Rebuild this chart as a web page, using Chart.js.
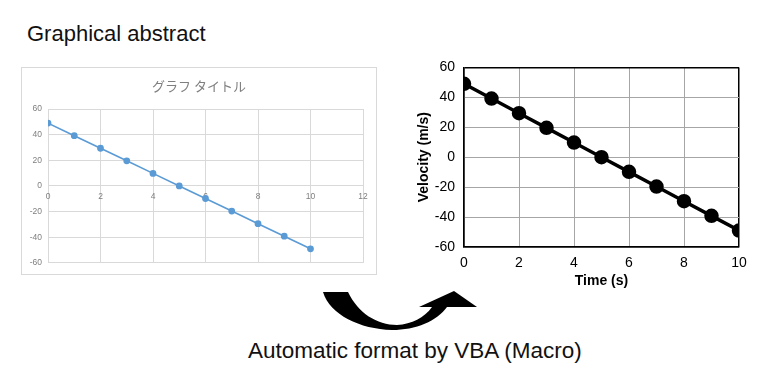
<!DOCTYPE html>
<html>
<head>
<meta charset="utf-8">
<script src="https://cdn.jsdelivr.net/npm/chart.js@4"></script>
<style>
  html, body { margin: 0; padding: 0; background: #fff; }
  body { width: 768px; height: 384px; position: relative; overflow: hidden; font-family: "Liberation Sans", Arial, sans-serif; }
  .txt { position: absolute; white-space: nowrap; color: #111; line-height: 1; }
  #leftBox { position: absolute; left: 21px; top: 67px; width: 356px; height: 208px; border: 1px solid #d9d9d9; box-sizing: border-box; }
  #leftWrap { position: absolute; left: 0; top: 0; width: 354px; height: 206px; }
  #rightWrap { position: absolute; left: 400px; top: 50px; width: 368px; height: 250px; }
  #excelTitle { position: absolute; left: 0; width: 354px; top: 11px; text-align: center; font-family: "Noto Sans CJK JP", sans-serif; font-size: 13px; color: #7f7f7f; line-height: 1; }
  svg { position: absolute; left: 0; top: 0; }
</style>
</head>
<body>
<div class="txt" style="left:27px; top:23px; font-size:22px;">Graphical abstract</div>
<div class="txt" style="left:248px; top:340px; font-size:22.5px;">Automatic format by VBA (Macro)</div>

<div id="leftBox">
  <div id="leftWrap"><canvas id="c1"></canvas></div>
  <div id="excelTitle">グラフ タイトル</div>
</div>
<div id="rightWrap"><canvas id="c2"></canvas></div>

<svg width="768" height="384" viewBox="0 0 768 384">
  <path d="M323,292 L348,292 C358,313 377,325 397,325 C412,324 424,318 432,307 L419,307 L454,291 L477,307 L447,307 C437,321 416,330 392,330 C360,329 330,315 323,292 Z" fill="#000"/>
</svg>

<script>
// ---- data ----
const timeS = [0, 1, 2, 3, 4, 5, 6, 7, 8, 9, 10];
const velocity = [49, 39.2, 29.4, 19.6, 9.8, 0, -9.8, -19.6, -29.4, -39.2, -49];
const leftXTicks = [0, 2, 4, 6, 8, 10, 12];
const rightXTicks = [0, 2, 4, 6, 8, 10];
const yTicks = [-60, -40, -20, 0, 20, 40, 60];

const points = timeS.map((t, i) => ({ x: t, y: velocity[i] }));

// ---- left (Excel default style) ----
new Chart(document.getElementById('c1'), {
  type: 'scatter',
  data: {
    datasets: [{
      data: points,
      showLine: true,
      borderColor: '#5b9bd5',
      backgroundColor: '#5b9bd5',
      borderWidth: 1.6,
      pointRadius: 2.6,
      pointHoverRadius: 2.6
    }]
  },
  options: {
    responsive: true,
    maintainAspectRatio: false,
    animation: false,
    events: [],
    layout: { padding: { top: 41, right: 13, bottom: 10, left: 0 } },
    plugins: { legend: { display: false }, tooltip: { enabled: false }, title: { display: false } },
    scales: {
      x: {
        type: 'linear',
        min: leftXTicks[0], max: leftXTicks[leftXTicks.length - 1],
        position: { y: 0 },
        afterBuildTicks: s => { s.ticks = leftXTicks.map(v => ({ value: v })); },
        grid: { color: '#d9d9d9', lineWidth: 1, drawTicks: false },
        border: { display: true, color: '#d9d9d9', width: 1 },
        ticks: { color: '#7f7f7f', font: { family: 'Liberation Sans', size: 8.5 }, padding: 6, maxRotation: 0 }
      },
      y: {
        type: 'linear',
        min: yTicks[0], max: yTicks[yTicks.length - 1],
        afterBuildTicks: s => { s.ticks = yTicks.map(v => ({ value: v })); },
        afterFit: s => { s.width = 26; },
        grid: { color: '#d9d9d9', lineWidth: 1, drawTicks: false },
        border: { display: false },
        ticks: { color: '#7f7f7f', font: { family: 'Liberation Sans', size: 8.5 }, padding: 6 }
      }
    }
  }
});

// ---- right (formatted) ----
new Chart(document.getElementById('c2'), {
  type: 'scatter',
  data: {
    datasets: [{
      data: points,
      showLine: true,
      borderColor: '#000',
      backgroundColor: '#000',
      borderWidth: 3.5,
      pointRadius: 5.5,
      pointHoverRadius: 5.5
    }]
  },
  options: {
    responsive: true,
    maintainAspectRatio: false,
    animation: false,
    events: [],
    layout: { padding: { top: 15, right: 29, bottom: 8, left: 0 } },
    plugins: { legend: { display: false }, tooltip: { enabled: false }, title: { display: false } },
    scales: {
      x: {
        type: 'linear',
        min: rightXTicks[0], max: rightXTicks[rightXTicks.length - 1],
        afterBuildTicks: s => { s.ticks = rightXTicks.map(v => ({ value: v })); },
        afterFit: s => { s.height = 45; },
        grid: {
          color: c => (c.tick && (c.tick.value === 0 || c.tick.value === 10)) ? '#000' : '#a6a6a6',
          lineWidth: c => (c.tick && (c.tick.value === 0 || c.tick.value === 10)) ? 1.5 : 1,
          drawTicks: false
        },
        border: { display: true, color: '#000', width: 1.5 },
        ticks: { color: '#000', font: { family: 'Liberation Sans', size: 14 }, padding: 8, maxRotation: 0 },
        title: { display: true, text: 'Time (s)', color: '#000', font: { family: 'Liberation Sans', size: 14, weight: 'bold' }, padding: { top: 0, bottom: 2 } }
      },
      y: {
        type: 'linear',
        min: yTicks[0], max: yTicks[yTicks.length - 1],
        afterBuildTicks: s => { s.ticks = yTicks.map(v => ({ value: v })); },
        afterFit: s => { s.width = 64; },
        grid: {
          color: c => (c.tick && (c.tick.value === 60 || c.tick.value === -60)) ? '#000' : '#a6a6a6',
          lineWidth: c => (c.tick && (c.tick.value === 60 || c.tick.value === -60)) ? 1.5 : 1,
          drawTicks: false
        },
        border: { display: true, color: '#000', width: 1.5 },
        ticks: { color: '#000', font: { family: 'Liberation Sans', size: 14 }, padding: 9 },
        title: { display: true, text: 'Velocity (m/s)', color: '#000', font: { family: 'Liberation Sans', size: 14, weight: 'bold' }, padding: { top: 16, bottom: 0 } }
      }
    }
  }
});
</script>
</body>
</html>
